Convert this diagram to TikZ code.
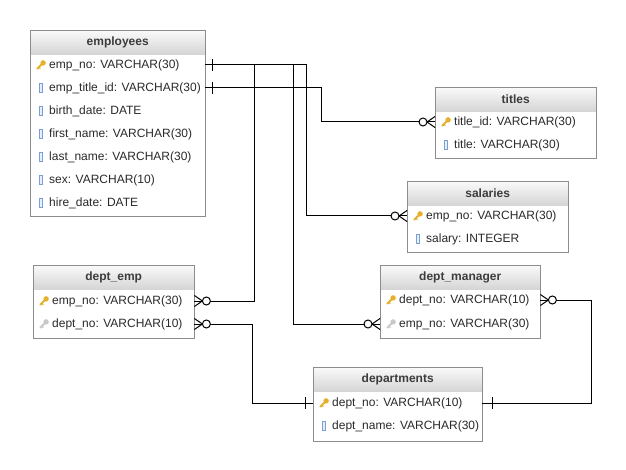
\documentclass[tikz,border=0pt]{standalone}
\usepackage{fontspec}
\setmainfont{Liberation Sans}
\usetikzlibrary{calc}
\definecolor{boxgray}{HTML}{8C8C8C}
\definecolor{hdrtop}{HTML}{FAFAFA}
\definecolor{hdrbot}{HTML}{D5D5D5}
\definecolor{txtc}{HTML}{2A2A2A}
\definecolor{hdrtxt}{HTML}{3C3C3C}
\definecolor{keygold}{HTML}{E6B02A}
\definecolor{keygray}{HTML}{C8C8C8}
\definecolor{colc}{HTML}{7A9FD4}
\definecolor{colfill}{HTML}{E6EEFA}
\newcommand\tbl[6]{%
  \node[hdr, minimum width=#4pt, anchor=north west] (#1h) at (#2,#3) {#6};
  \node[tblbox, minimum width=#4pt, minimum height=#5pt, anchor=north west] (#1) at (#2,#3) {};}
\newcommand\rw[6]{%
  \node[rowtxt, anchor=west] (#1) at (#2,#3) {\makebox[#4pt][l]{\hspace{19pt}#6}};
  #5{#1}}
\newcommand\keyicon[2]{%
  \begin{scope}[shift={($(#1.west)+(11,0)$)}]
    \draw[#2, line width=1.8pt, line cap=round] (-3.8,3.8) -- (1,-1);
    \draw[#2, line width=1.2pt] (-2.2,2.2) -- (-0.6,3.8);
    \fill[#2] (2.1,-2.1) circle[radius=2.7pt];
  \end{scope}}
\newcommand\pk[1]{\keyicon{#1}{keygold}}
\newcommand\fk[1]{\keyicon{#1}{keygray}}
\newcommand\cl[1]{%
  \draw[colc, fill=colfill, line width=0.6pt] ($(#1.west)+(9.5,-4.5)$) rectangle ($(#1.west)+(12.5,4.5)$);}
\newcommand\manyR[1]{%
  \draw[rel] ($(#1)+(0,-5.5)$) -- ($(#1)+(8,0)$) -- ($(#1)+(0,5.5)$);
  \draw[rel, fill=white] ($(#1)+(12,0)$) circle[radius=4pt];}
\newcommand\manyL[1]{%
  \draw[rel] ($(#1)+(0,-5.5)$) -- ($(#1)+(-8,0)$) -- ($(#1)+(0,5.5)$);
  \draw[rel, fill=white] ($(#1)+(-12,0)$) circle[radius=4pt];}
\newcommand\oneT[2]{%
  \draw[rel] ($(#1)+(#2,-6)$) -- ($(#1)+(#2,6)$);}
\begin{document}
\begin{tikzpicture}[x=1pt,y=-1pt,
  font=\fontsize{12}{14}\selectfont,
  hdr/.style={inner sep=0pt, minimum height=24pt, top color=hdrtop, bottom color=hdrbot, draw=none, text=hdrtxt, font=\fontsize{12}{14}\selectfont\bfseries},
  tblbox/.style={draw=boxgray, line width=0.9pt, inner sep=0pt},
  rowtxt/.style={inner sep=0pt, minimum height=23pt, text=txtc},
  rel/.style={draw=black, line width=1pt}]
\useasboundingbox[fill=white] (0,0) rectangle (626,470);

% employees
\tbl{emp}{30}{30}{175}{186}{employees}
\rw{emp1}{30}{65}{175}{\pk}{emp\_no: VARCHAR(30)}
\rw{emp2}{30}{88}{175}{\cl}{emp\_title\_id: VARCHAR(30)}
\rw{emp3}{30}{111}{175}{\cl}{birth\_date: DATE}
\rw{emp4}{30}{134}{175}{\cl}{first\_name: VARCHAR(30)}
\rw{emp5}{30}{157}{175}{\cl}{last\_name: VARCHAR(30)}
\rw{emp6}{30}{180}{175}{\cl}{sex: VARCHAR(10)}
\rw{emp7}{30}{203}{175}{\cl}{hire\_date: DATE}

% titles
\tbl{ti}{435}{87}{161}{71}{titles}
\rw{ti1}{435}{122}{161}{\pk}{title\_id: VARCHAR(30)}
\rw{ti2}{435}{145}{161}{\cl}{title: VARCHAR(30)}

% salaries
\tbl{sal}{407}{181}{161}{71}{salaries}
\rw{sal1}{407}{216}{161}{\pk}{emp\_no: VARCHAR(30)}
\rw{sal2}{407}{239}{161}{\cl}{salary: INTEGER}

% dept_emp
\tbl{de}{33}{265}{161}{73}{dept\_emp}
\rw{de1}{33}{301}{161}{\pk}{emp\_no: VARCHAR(30)}
\rw{de2}{33}{324}{161}{\fk}{dept\_no: VARCHAR(10)}

% dept_manager
\tbl{dm}{380}{265}{160}{73}{dept\_manager}
\rw{dm1}{380}{300}{160}{\pk}{dept\_no: VARCHAR(10)}
\rw{dm2}{380}{324}{160}{\fk}{emp\_no: VARCHAR(30)}

% departments
\tbl{dp}{313}{367}{169}{74}{departments}
\rw{dp1}{313}{403}{169}{\pk}{dept\_no: VARCHAR(10)}
\rw{dp2}{313}{426}{169}{\cl}{dept\_name: VARCHAR(30)}

% connectors
\draw[rel] (emp1.east) -- ++(101,0) |- (sal1.west);
\draw[rel] (emp1.east) -- ++(49,0) |- (de1.east);
\draw[rel] (emp1.east) -- ++(88,0) |- (dm2.west);
\draw[rel] (emp2.east) -- ++(116,0) |- (ti1.west);
\draw[rel] (de2.east) -- ++(58,0) |- (dp1.west);
\draw[rel] (dm1.east) -- ++(51,0) |- (dp1.east);

% ends
\oneT{emp1.east}{7}
\oneT{emp2.east}{7}
\oneT{dp1.west}{-8}
\oneT{dp1.east}{10}
\manyR{de1.east}
\manyR{de2.east}
\manyR{dm1.east}
\manyL{sal1.west}
\manyL{ti1.west}
\manyL{dm2.west}
\end{tikzpicture}
\end{document}
